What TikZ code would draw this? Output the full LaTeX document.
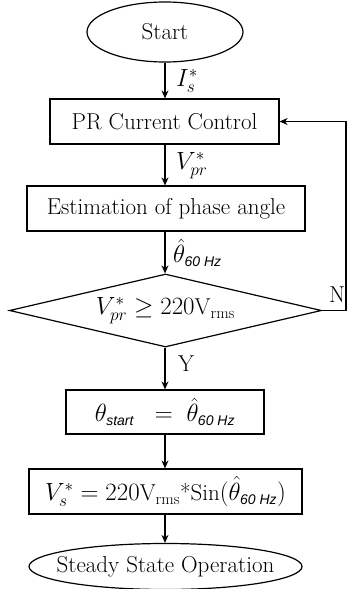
\documentclass[tikz,border=0pt]{standalone}
\usepackage{amsmath,amssymb}
\usepackage{fontspec}
\usetikzlibrary{shapes.geometric,arrows.meta}
\newfontfamily\hzfont{Liberation Sans}
\newcommand{\hzsub}[1]{\mbox{\fontsize{14}{14}\selectfont\hzfont\itshape #1}}
\begin{document}
\begin{tikzpicture}[x=1pt,y=-1pt,
  font=\fontsize{23}{26}\selectfont,
  every node/.style={inner sep=0pt},
  boxnode/.style={draw,line width=1.2pt,rectangle},
  termnode/.style={draw,line width=1.2pt,ellipse},
  decnode/.style={draw,line width=1.2pt,diamond},
  flow/.style={line width=1.2pt,-{Stealth[length=8pt,width=7pt]}},
  lbl/.style={anchor=west}]
\useasboundingbox (0,0) rectangle (347,589);
\node[termnode,minimum width=156pt,minimum height=60pt] (start) at (165,32) {};
\node (starttext) at (start.center) {Start};
\node[boxnode,minimum width=229pt,minimum height=45pt] (pr) at (164.5,121.5) {PR Current Control};
\node[boxnode,minimum width=278pt,minimum height=45pt] (est) at (166,208.5) {Estimation of phase angle};
\node[decnode,minimum width=312pt,minimum height=73pt] (dec) at (165.5,310.5) {};
\node (dectext) at (dec.center) {$V_{pr}^{*} \geq 220\mathrm{V}_{\mathrm{rms}}$};
\node[boxnode,minimum width=198pt,minimum height=44pt] (th) at (165,412) {$\theta_{\hzsub{start}}\ \ =\ \hat{\theta}_{\hzsub{60 Hz}}$};
\node[boxnode,minimum width=273pt,minimum height=45pt] (vs) at (165.5,491.5) {$V_{s}^{*} = 220\mathrm{V}_{\mathrm{rms}}$*Sin$(\hat{\theta}_{\hzsub{60 Hz}})$};
\node[termnode,minimum width=273pt,minimum height=46pt] (ss) at (165.5,566.5) {};
\node (sstext) at (ss.center) {Steady State Operation};
\coordinate (c1) at (346,310.5);
\coordinate (c2) at (346,121.5);
\draw[flow] (start.south) -- (start.south |- pr.north);
\draw[flow] (start.south |- pr.south) -- (start.south |- est.north);
\draw[flow] (start.south |- est.south) -- (start.south |- dec.north);
\draw[flow] (start.south |- dec.south) -- (start.south |- th.north);
\draw[flow] (start.south |- th.south) -- (start.south |- vs.north);
\draw[flow] (start.south |- vs.south) -- (start.south |- ss.north);
\draw[flow] (dec.east) -- (c1) -- (c2) -- (pr.east);
\node[lbl] (l1) at (176,81) {$I_{s}^{*}$};
\node[lbl] (l2) at (176,166) {$V_{pr}^{*}$};
\node[lbl] (l3) at (173,253) {$\hat{\theta}_{\hzsub{60 Hz}}$};
\node (ln) at (337,295) {N};
\node (ly) at (186,364) {Y};
\end{tikzpicture}
\end{document}
